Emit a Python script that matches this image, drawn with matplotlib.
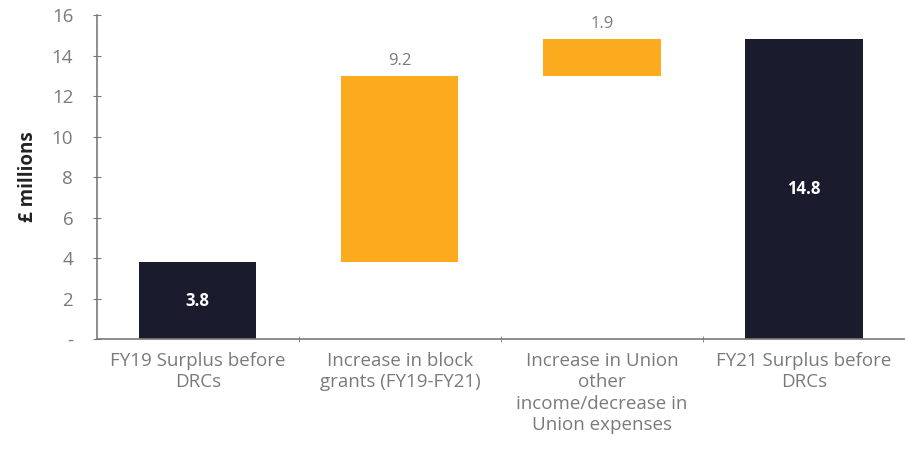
import numpy as np
import matplotlib
matplotlib.use('Agg')
import matplotlib.pyplot as plt

plt.rcParams['font.family'] = ['Open Sans', 'DejaVu Sans']

categories = ['FY19 Surplus before\nDRCs', 'Increase in block\ngrants (FY19-FY21)',
              'Increase in Union\nother\nincome/decrease in\nUnion expenses', 'FY21 Surplus before\nDRCs']
bottoms = [0, 3.8, 13.0, 0]
heights = [3.8, 9.2, 1.9, 14.8]
labels = ['3.8', '9.2', '1.9', '14.8']
is_total = [True, False, False, True]

navy = '#1a1c2e'
orange = '#fcab1f'
grey = '#7a7a7a'

fig = plt.figure(figsize=(9.05, 4.57), dpi=100)
ax = fig.add_axes([0.107, 0.258, 0.893, 0.709])

x = np.arange(len(categories))
cols = [navy if t else orange for t in is_total]
# the last total bar ends at 14.8 while 3.8+9.2+1.9 rounds to 14.9, keep the top of step 3 at 14.8
tops = [b + h for b, h in zip(bottoms, heights)]
tops[2] = 14.8
ax.bar(x, np.array(tops) - np.array(bottoms), bottom=bottoms, width=0.58, color=cols, zorder=2)

for i in range(len(x)):
    if is_total[i]:
        ax.text(x[i], (bottoms[i] + tops[i]) / 2, labels[i], ha='center', va='center',
                color='white', fontsize=12, fontweight='bold')
    else:
        ax.text(x[i], tops[i] + 0.35, labels[i], ha='center', va='bottom',
                color=grey, fontsize=12)

ax.set_xlim(-0.5, 3.5)
ax.set_ylim(0, 16)
ax.set_yticks(np.arange(0, 17, 2))
ax.set_yticklabels(['-'] + [str(v) for v in range(2, 17, 2)])
ax.set_xticks(x)
ax.set_xticklabels(categories, fontsize=13.5, color=grey, linespacing=1.25)
ax.set_xticks([0.5, 1.5, 2.5, 3.5], minor=True)
ax.tick_params(axis='x', which='major', length=0, pad=9)
ax.tick_params(axis='x', which='minor', length=4, direction='inout', color=grey)
ax.tick_params(axis='y', length=6, direction='inout', color=grey, labelcolor=grey,
               labelsize=13.5, pad=14)

for s in ['top', 'right']:
    ax.spines[s].set_visible(False)
for s in ['left', 'bottom']:
    ax.spines[s].set_color(grey)
    ax.spines[s].set_linewidth(1.2)

ax.set_ylabel('£ millions', fontsize=13.5, fontweight='bold', color='#222222', labelpad=10)

fig.savefig('out.png', dpi=100)
